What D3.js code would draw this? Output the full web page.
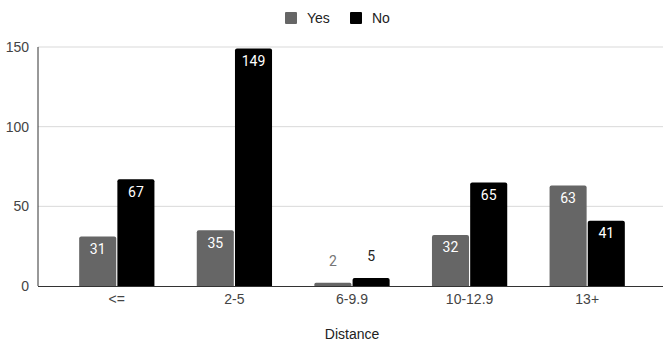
<!DOCTYPE html>
<html>
<head>
<meta charset="utf-8">
<script src="https://cdn.jsdelivr.net/npm/d3@7"></script>
<style>
  html, body { margin: 0; padding: 0; background: #fff; }
  svg { display: block; }
</style>
</head>
<body>
<svg id="chart" width="663" height="343"></svg>
<script>
// Distance buckets and counts per answer
const categories = ["<=", "2-5", "6-9.9", "10-12.9", "13+"];
const seriesNames = ["Yes", "No"];
const yesValues = [31, 35, 2, 32, 63];
const noValues = [67, 149, 5, 65, 41];
const yTicks = [0, 50, 100, 150];
const seriesColors = ["#666666", "#000000"];

const svg = d3.select("#chart");
const axisX = 38, plotRight = 663;
const plotTop = 47, plotBottom = 286;

const x0 = d3.scaleBand().domain(categories).range([58, 646])
  .paddingInner(0.36).paddingOuter(0.18);
const x1 = d3.scaleBand().domain(seriesNames).range([0, x0.bandwidth()]).paddingInner(0.03);
const y = d3.scaleLinear().domain([0, 150]).range([plotBottom, plotTop]);

const font = "Arial, 'Liberation Sans', sans-serif";

// gridlines
svg.append("g").selectAll("line").data(yTicks.filter(d => d > 0)).join("line")
  .attr("x1", axisX).attr("x2", plotRight)
  .attr("y1", d => y(d)).attr("y2", d => y(d))
  .attr("stroke", "#d9d9d9").attr("stroke-width", 1);

// y tick labels
svg.append("g").selectAll("text").data(yTicks).join("text")
  .attr("x", 29).attr("y", d => y(d)).attr("dy", "0.35em")
  .attr("text-anchor", "end")
  .attr("font-family", font).attr("font-size", 14).attr("fill", "#444")
  .text(d => d);

// bars
const rows = categories.map((c, i) => ({ cat: c, vals: [yesValues[i], noValues[i]] }));
const groups = svg.append("g").selectAll("g").data(rows).join("g")
  .attr("transform", d => `translate(${x0(d.cat)},0)`);

groups.selectAll("path").data(d => d.vals.map((v, j) => ({ v, s: seriesNames[j], j })))
  .join("path")
  .attr("fill", d => seriesColors[d.j])
  .attr("d", d => {
    const bx = x1(d.s), bw = x1.bandwidth();
    const by = y(d.v), bh = plotBottom - by;
    const r = Math.min(2, bh / 2);
    return `M${bx},${plotBottom}V${by + r}Q${bx},${by} ${bx + r},${by}H${bx + bw - r}Q${bx + bw},${by} ${bx + bw},${by + r}V${plotBottom}Z`;
  });

// value labels: inside the bar when it is tall enough, otherwise above it
groups.selectAll("text").data(d => d.vals.map((v, j) => ({ v, s: seriesNames[j], j })))
  .join("text")
  .attr("x", d => x1(d.s) + x1.bandwidth() / 2)
  .attr("y", d => (plotBottom - y(d.v) > 24) ? y(d.v) + 12.5 : y(d.v) - 21.5)
  .attr("dy", "0.35em")
  .attr("text-anchor", "middle")
  .attr("font-family", "Roboto, sans-serif").attr("font-size", 14)
  .attr("font-weight", 400)
  .attr("fill", d => (plotBottom - y(d.v) > 24) ? "#ffffff" : (d.j === 0 ? "#757575" : "#222222"))
  .text(d => d.v);

// axis lines
svg.append("line").attr("x1", axisX).attr("x2", axisX).attr("y1", plotTop).attr("y2", plotBottom)
  .attr("stroke", "#333").attr("stroke-width", 1);
svg.append("line").attr("x1", axisX).attr("x2", plotRight).attr("y1", plotBottom + 0.5).attr("y2", plotBottom + 0.5)
  .attr("stroke", "#333").attr("stroke-width", 1);

// x tick labels
svg.append("g").selectAll("text").data(categories).join("text")
  .attr("x", d => x0(d) + x0.bandwidth() / 2).attr("y", 299).attr("dy", "0.35em")
  .attr("text-anchor", "middle")
  .attr("font-family", font).attr("font-size", 14).attr("fill", "#444")
  .text(d => d);

// x axis title
svg.append("text")
  .attr("x", (x0.range()[0] + x0.range()[1]) / 2).attr("y", 334).attr("dy", "0.35em")
  .attr("text-anchor", "middle")
  .attr("font-family", font).attr("font-size", 14).attr("fill", "#222")
  .text("Distance");

// legend
const legend = svg.append("g");
const legendItems = [{ name: "Yes", x: 285 }, { name: "No", x: 350 }];
legendItems.forEach((it, i) => {
  legend.append("rect").attr("x", it.x).attr("y", 12).attr("width", 12).attr("height", 12)
    .attr("rx", 1).attr("fill", seriesColors[i]);
  legend.append("text").attr("x", it.x + 22).attr("y", 18).attr("dy", "0.35em")
    .attr("font-family", font).attr("font-size", 14).attr("fill", "#222")
    .text(it.name);
});
</script>
</body>
</html>
